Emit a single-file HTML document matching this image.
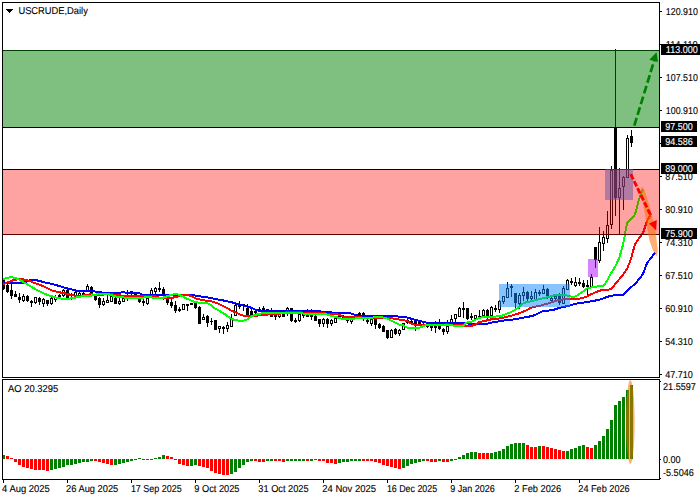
<!DOCTYPE html><html><head><meta charset="utf-8"><style>
html,body{margin:0;padding:0;background:#fff;}
body{width:700px;height:500px;overflow:hidden;position:relative;font-family:"Liberation Sans",sans-serif;}
svg{position:absolute;left:0;top:0;}
.t{font-family:"Liberation Sans",sans-serif;font-size:10px;fill:#000;text-rendering:geometricPrecision;stroke:#000;stroke-width:0.12px;}
.w{fill:#fff;stroke:#fff;}
</style></head><body>
<svg width="700" height="500" viewBox="0 0 700 500">
<defs><clipPath id="cm"><rect x="3" y="3" width="656" height="374"/></clipPath><clipPath id="ca"><rect x="3" y="380" width="656" height="99"/></clipPath></defs>
<rect x="0" y="0" width="700" height="500" fill="#fff"/>
<g clip-path="url(#cm)">
<g shape-rendering="crispEdges" fill="#000"><rect x="3" y="279" width="1" height="11"/><rect x="2" y="280" width="3" height="9"/><rect x="7" y="284" width="1" height="9"/><rect x="6" y="285" width="3" height="7"/><rect x="11" y="284" width="1" height="15"/><rect x="10" y="290" width="3" height="6"/><rect x="15" y="291" width="1" height="6"/><rect x="14" y="294" width="3" height="3"/><rect x="19" y="293" width="1" height="10"/><rect x="18" y="297" width="3" height="3"/><rect x="23" y="294" width="1" height="8"/><rect x="22" y="296" width="3" height="5"/><rect x="23" y="297" width="1" height="3" fill="#fff"/><rect x="27" y="295" width="1" height="7"/><rect x="26" y="296" width="3" height="5"/><rect x="31" y="300" width="1" height="7"/><rect x="30" y="301" width="3" height="2"/><rect x="35" y="297" width="1" height="7"/><rect x="34" y="297" width="3" height="6"/><rect x="35" y="298" width="1" height="4" fill="#fff"/><rect x="39" y="297" width="1" height="8"/><rect x="38" y="298" width="3" height="4"/><rect x="43" y="298" width="1" height="9"/><rect x="42" y="299" width="3" height="5"/><rect x="43" y="300" width="1" height="3" fill="#fff"/><rect x="47" y="300" width="1" height="6"/><rect x="46" y="300" width="3" height="4"/><rect x="51" y="297" width="1" height="8"/><rect x="50" y="298" width="3" height="6"/><rect x="51" y="299" width="1" height="4" fill="#fff"/><rect x="55" y="295" width="1" height="7"/><rect x="54" y="297" width="3" height="3"/><rect x="55" y="298" width="1" height="1" fill="#fff"/><rect x="59" y="294" width="1" height="4"/><rect x="58" y="295" width="3" height="2"/><rect x="63" y="289" width="1" height="8"/><rect x="62" y="290" width="3" height="6"/><rect x="63" y="291" width="1" height="4" fill="#fff"/><rect x="67" y="289" width="1" height="10"/><rect x="66" y="290" width="3" height="8"/><rect x="71" y="293" width="1" height="7"/><rect x="70" y="294" width="3" height="2"/><rect x="75" y="291" width="1" height="6"/><rect x="74" y="292" width="3" height="4"/><rect x="75" y="293" width="1" height="2" fill="#fff"/><rect x="79" y="292" width="1" height="5"/><rect x="78" y="293" width="3" height="3"/><rect x="79" y="294" width="1" height="1" fill="#fff"/><rect x="83" y="292" width="1" height="4"/><rect x="82" y="293" width="3" height="2"/><rect x="87" y="284" width="1" height="8"/><rect x="86" y="286" width="3" height="6"/><rect x="87" y="287" width="1" height="4" fill="#fff"/><rect x="91" y="286" width="1" height="8"/><rect x="90" y="287" width="3" height="6"/><rect x="95" y="295" width="1" height="6"/><rect x="94" y="296" width="3" height="4"/><rect x="99" y="297" width="1" height="11"/><rect x="98" y="298" width="3" height="7"/><rect x="103" y="298" width="1" height="8"/><rect x="102" y="301" width="3" height="4"/><rect x="103" y="302" width="1" height="2" fill="#fff"/><rect x="107" y="295" width="1" height="8"/><rect x="106" y="300" width="3" height="3"/><rect x="107" y="301" width="1" height="1" fill="#fff"/><rect x="111" y="295" width="1" height="7"/><rect x="110" y="296" width="3" height="6"/><rect x="111" y="297" width="1" height="4" fill="#fff"/><rect x="115" y="294" width="1" height="10"/><rect x="114" y="298" width="3" height="6"/><rect x="119" y="298" width="1" height="7"/><rect x="118" y="301" width="3" height="3"/><rect x="119" y="302" width="1" height="1" fill="#fff"/><rect x="123" y="296" width="1" height="6"/><rect x="122" y="298" width="3" height="4"/><rect x="123" y="299" width="1" height="2" fill="#fff"/><rect x="127" y="290" width="1" height="11"/><rect x="126" y="296" width="3" height="2"/><rect x="131" y="291" width="1" height="5"/><rect x="130" y="291" width="3" height="3"/><rect x="131" y="292" width="1" height="1" fill="#fff"/><rect x="135" y="292" width="1" height="5"/><rect x="134" y="292" width="3" height="3"/><rect x="139" y="299" width="1" height="4"/><rect x="138" y="299" width="3" height="3"/><rect x="143" y="299" width="1" height="7"/><rect x="142" y="301" width="3" height="2"/><rect x="147" y="297" width="1" height="8"/><rect x="146" y="298" width="3" height="6"/><rect x="147" y="299" width="1" height="4" fill="#fff"/><rect x="151" y="288" width="1" height="8"/><rect x="150" y="290" width="3" height="5"/><rect x="151" y="291" width="1" height="3" fill="#fff"/><rect x="155" y="287" width="1" height="7"/><rect x="154" y="288" width="3" height="4"/><rect x="155" y="289" width="1" height="2" fill="#fff"/><rect x="159" y="282" width="1" height="10"/><rect x="158" y="288" width="3" height="2"/><rect x="163" y="287" width="1" height="13"/><rect x="162" y="289" width="3" height="6"/><rect x="167" y="298" width="1" height="7"/><rect x="166" y="299" width="3" height="4"/><rect x="171" y="299" width="1" height="9"/><rect x="170" y="302" width="3" height="4"/><rect x="175" y="301" width="1" height="12"/><rect x="174" y="305" width="3" height="6"/><rect x="179" y="307" width="1" height="5"/><rect x="178" y="309" width="3" height="2"/><rect x="183" y="304" width="1" height="6"/><rect x="182" y="304" width="3" height="6"/><rect x="183" y="305" width="1" height="4" fill="#fff"/><rect x="187" y="304" width="1" height="7"/><rect x="186" y="304" width="3" height="2"/><rect x="191" y="303" width="1" height="2"/><rect x="190" y="303" width="3" height="2"/><rect x="195" y="303" width="1" height="6"/><rect x="194" y="303" width="3" height="5"/><rect x="199" y="306" width="1" height="18"/><rect x="198" y="307" width="3" height="17"/><rect x="203" y="314" width="1" height="6"/><rect x="202" y="317" width="3" height="3"/><rect x="203" y="318" width="1" height="1" fill="#fff"/><rect x="207" y="315" width="1" height="12"/><rect x="206" y="316" width="3" height="7"/><rect x="211" y="318" width="1" height="7"/><rect x="210" y="321" width="3" height="1"/><rect x="215" y="320" width="1" height="10"/><rect x="214" y="320" width="3" height="10"/><rect x="219" y="326" width="1" height="7"/><rect x="218" y="326" width="3" height="3"/><rect x="219" y="327" width="1" height="1" fill="#fff"/><rect x="223" y="326" width="1" height="8"/><rect x="222" y="327" width="3" height="2"/><rect x="227" y="322" width="1" height="10"/><rect x="226" y="325" width="3" height="4"/><rect x="227" y="326" width="1" height="2" fill="#fff"/><rect x="231" y="314" width="1" height="13"/><rect x="230" y="319" width="3" height="8"/><rect x="231" y="320" width="1" height="6" fill="#fff"/><rect x="235" y="304" width="1" height="12"/><rect x="234" y="305" width="3" height="11"/><rect x="235" y="306" width="1" height="9" fill="#fff"/><rect x="239" y="301" width="1" height="8"/><rect x="238" y="305" width="3" height="2"/><rect x="243" y="304" width="1" height="7"/><rect x="242" y="304" width="3" height="2"/><rect x="247" y="304" width="1" height="11"/><rect x="246" y="308" width="3" height="7"/><rect x="251" y="309" width="1" height="6"/><rect x="250" y="311" width="3" height="4"/><rect x="255" y="310" width="1" height="4"/><rect x="254" y="311" width="3" height="2"/><rect x="259" y="307" width="1" height="5"/><rect x="258" y="309" width="3" height="2"/><rect x="263" y="306" width="1" height="6"/><rect x="262" y="308" width="3" height="3"/><rect x="267" y="309" width="1" height="6"/><rect x="266" y="309" width="3" height="2"/><rect x="271" y="308" width="1" height="9"/><rect x="270" y="314" width="3" height="3"/><rect x="275" y="314" width="1" height="6"/><rect x="274" y="315" width="3" height="2"/><rect x="279" y="313" width="1" height="5"/><rect x="278" y="314" width="3" height="3"/><rect x="279" y="315" width="1" height="1" fill="#fff"/><rect x="283" y="313" width="1" height="4"/><rect x="282" y="313" width="3" height="4"/><rect x="287" y="307" width="1" height="9"/><rect x="286" y="308" width="3" height="4"/><rect x="287" y="309" width="1" height="2" fill="#fff"/><rect x="291" y="308" width="1" height="14"/><rect x="290" y="308" width="3" height="13"/><rect x="295" y="318" width="1" height="5"/><rect x="294" y="320" width="3" height="2"/><rect x="299" y="314" width="1" height="8"/><rect x="298" y="314" width="3" height="7"/><rect x="299" y="315" width="1" height="5" fill="#fff"/><rect x="303" y="313" width="1" height="5"/><rect x="302" y="314" width="3" height="2"/><rect x="307" y="309" width="1" height="8"/><rect x="306" y="315" width="3" height="2"/><rect x="311" y="309" width="1" height="11"/><rect x="310" y="315" width="3" height="2"/><rect x="315" y="315" width="1" height="6"/><rect x="314" y="316" width="3" height="5"/><rect x="319" y="319" width="1" height="8"/><rect x="318" y="319" width="3" height="5"/><rect x="323" y="318" width="1" height="9"/><rect x="322" y="319" width="3" height="5"/><rect x="323" y="320" width="1" height="3" fill="#fff"/><rect x="327" y="318" width="1" height="10"/><rect x="326" y="319" width="3" height="5"/><rect x="331" y="319" width="1" height="7"/><rect x="330" y="320" width="3" height="4"/><rect x="331" y="321" width="1" height="2" fill="#fff"/><rect x="335" y="318" width="1" height="5"/><rect x="334" y="318" width="3" height="5"/><rect x="335" y="319" width="1" height="3" fill="#fff"/><rect x="339" y="315" width="1" height="4"/><rect x="338" y="316" width="3" height="2"/><rect x="343" y="315" width="1" height="4"/><rect x="342" y="316" width="3" height="2"/><rect x="347" y="318" width="1" height="5"/><rect x="346" y="319" width="3" height="2"/><rect x="351" y="318" width="1" height="6"/><rect x="350" y="319" width="3" height="3"/><rect x="351" y="320" width="1" height="1" fill="#fff"/><rect x="355" y="314" width="1" height="4"/><rect x="354" y="315" width="3" height="2"/><rect x="359" y="312" width="1" height="5"/><rect x="358" y="313" width="3" height="3"/><rect x="363" y="312" width="1" height="9"/><rect x="362" y="313" width="3" height="6"/><rect x="367" y="319" width="1" height="5"/><rect x="366" y="320" width="3" height="2"/><rect x="371" y="319" width="1" height="7"/><rect x="370" y="319" width="3" height="5"/><rect x="371" y="320" width="1" height="3" fill="#fff"/><rect x="375" y="318" width="1" height="11"/><rect x="374" y="319" width="3" height="6"/><rect x="379" y="323" width="1" height="6"/><rect x="378" y="324" width="3" height="4"/><rect x="383" y="325" width="1" height="7"/><rect x="382" y="326" width="3" height="6"/><rect x="387" y="330" width="1" height="9"/><rect x="386" y="330" width="3" height="8"/><rect x="391" y="329" width="1" height="9"/><rect x="390" y="330" width="3" height="8"/><rect x="391" y="331" width="1" height="6" fill="#fff"/><rect x="395" y="328" width="1" height="7"/><rect x="394" y="329" width="3" height="5"/><rect x="399" y="329" width="1" height="7"/><rect x="398" y="330" width="3" height="4"/><rect x="399" y="331" width="1" height="2" fill="#fff"/><rect x="403" y="323" width="1" height="7"/><rect x="402" y="323" width="3" height="7"/><rect x="403" y="324" width="1" height="5" fill="#fff"/><rect x="407" y="319" width="1" height="5"/><rect x="406" y="320" width="3" height="3"/><rect x="411" y="320" width="1" height="4"/><rect x="410" y="321" width="3" height="2"/><rect x="415" y="320" width="1" height="11"/><rect x="414" y="321" width="3" height="4"/><rect x="419" y="322" width="1" height="3"/><rect x="418" y="322" width="3" height="2"/><rect x="423" y="323" width="1" height="4"/><rect x="422" y="324" width="3" height="2"/><rect x="427" y="325" width="1" height="3"/><rect x="426" y="326" width="3" height="1"/><rect x="431" y="325" width="1" height="6"/><rect x="430" y="326" width="3" height="2"/><rect x="435" y="321" width="1" height="12"/><rect x="434" y="326" width="3" height="2"/><rect x="439" y="319" width="1" height="11"/><rect x="438" y="326" width="3" height="3"/><rect x="443" y="328" width="1" height="7"/><rect x="442" y="329" width="3" height="3"/><rect x="447" y="320" width="1" height="14"/><rect x="446" y="326" width="3" height="6"/><rect x="447" y="327" width="1" height="4" fill="#fff"/><rect x="451" y="315" width="1" height="8"/><rect x="450" y="319" width="3" height="4"/><rect x="451" y="320" width="1" height="2" fill="#fff"/><rect x="455" y="314" width="1" height="8"/><rect x="454" y="314" width="3" height="5"/><rect x="455" y="315" width="1" height="3" fill="#fff"/><rect x="459" y="307" width="1" height="10"/><rect x="458" y="308" width="3" height="9"/><rect x="459" y="309" width="1" height="7" fill="#fff"/><rect x="463" y="302" width="1" height="16"/><rect x="462" y="308" width="3" height="2"/><rect x="467" y="308" width="1" height="12"/><rect x="466" y="308" width="3" height="11"/><rect x="471" y="313" width="1" height="7"/><rect x="470" y="316" width="3" height="2"/><rect x="475" y="315" width="1" height="4"/><rect x="474" y="315" width="3" height="4"/><rect x="475" y="316" width="1" height="2" fill="#fff"/><rect x="479" y="310" width="1" height="7"/><rect x="478" y="316" width="3" height="1"/><rect x="483" y="309" width="1" height="8"/><rect x="482" y="310" width="3" height="6"/><rect x="483" y="311" width="1" height="4" fill="#fff"/><rect x="487" y="309" width="1" height="10"/><rect x="486" y="310" width="3" height="6"/><rect x="491" y="306" width="1" height="10"/><rect x="490" y="307" width="3" height="9"/><rect x="491" y="308" width="1" height="7" fill="#fff"/><rect x="495" y="305" width="1" height="7"/><rect x="494" y="308" width="3" height="2"/><rect x="499" y="300" width="1" height="13"/><rect x="498" y="301" width="3" height="9"/><rect x="499" y="302" width="1" height="7" fill="#fff"/><rect x="503" y="296" width="1" height="8"/><rect x="502" y="296" width="3" height="6"/><rect x="503" y="297" width="1" height="4" fill="#fff"/><rect x="507" y="282" width="1" height="16"/><rect x="506" y="288" width="3" height="10"/><rect x="507" y="289" width="1" height="8" fill="#fff"/><rect x="511" y="284" width="1" height="13"/><rect x="510" y="286" width="3" height="2"/><rect x="515" y="293" width="1" height="15"/><rect x="514" y="293" width="3" height="10"/><rect x="519" y="293" width="1" height="16"/><rect x="518" y="295" width="3" height="9"/><rect x="519" y="296" width="1" height="7" fill="#fff"/><rect x="523" y="287" width="1" height="14"/><rect x="522" y="292" width="3" height="4"/><rect x="523" y="293" width="1" height="2" fill="#fff"/><rect x="527" y="291" width="1" height="10"/><rect x="526" y="292" width="3" height="7"/><rect x="531" y="291" width="1" height="10"/><rect x="530" y="296" width="3" height="3"/><rect x="531" y="297" width="1" height="1" fill="#fff"/><rect x="535" y="289" width="1" height="11"/><rect x="534" y="292" width="3" height="8"/><rect x="535" y="293" width="1" height="6" fill="#fff"/><rect x="539" y="290" width="1" height="6"/><rect x="538" y="292" width="3" height="2"/><rect x="543" y="285" width="1" height="9"/><rect x="542" y="289" width="3" height="5"/><rect x="543" y="290" width="1" height="3" fill="#fff"/><rect x="547" y="288" width="1" height="11"/><rect x="546" y="289" width="3" height="9"/><rect x="551" y="297" width="1" height="5"/><rect x="550" y="298" width="3" height="3"/><rect x="551" y="299" width="1" height="1" fill="#fff"/><rect x="555" y="294" width="1" height="7"/><rect x="554" y="296" width="3" height="3"/><rect x="555" y="297" width="1" height="1" fill="#fff"/><rect x="559" y="293" width="1" height="12"/><rect x="558" y="296" width="3" height="7"/><rect x="563" y="286" width="1" height="18"/><rect x="562" y="288" width="3" height="16"/><rect x="563" y="289" width="1" height="14" fill="#fff"/><rect x="567" y="279" width="1" height="11"/><rect x="566" y="280" width="3" height="10"/><rect x="567" y="281" width="1" height="8" fill="#fff"/><rect x="571" y="278" width="1" height="7"/><rect x="570" y="281" width="3" height="2"/><rect x="575" y="277" width="1" height="10"/><rect x="574" y="282" width="3" height="4"/><rect x="575" y="283" width="1" height="2" fill="#fff"/><rect x="579" y="278" width="1" height="8"/><rect x="578" y="282" width="3" height="2"/><rect x="583" y="280" width="1" height="8"/><rect x="582" y="283" width="3" height="4"/><rect x="587" y="280" width="1" height="15"/><rect x="586" y="285" width="3" height="2"/><rect x="591" y="274" width="1" height="14"/><rect x="590" y="277" width="3" height="10"/><rect x="591" y="278" width="1" height="8" fill="#fff"/><rect x="595" y="247" width="1" height="21"/><rect x="594" y="247" width="3" height="13"/><rect x="599" y="227" width="1" height="36"/><rect x="598" y="242" width="3" height="19"/><rect x="599" y="243" width="1" height="17" fill="#fff"/><rect x="603" y="231" width="1" height="20"/><rect x="602" y="237" width="3" height="7"/><rect x="603" y="238" width="1" height="5" fill="#fff"/><rect x="607" y="211" width="1" height="32"/><rect x="606" y="225" width="3" height="14"/><rect x="607" y="226" width="1" height="12" fill="#fff"/><rect x="611" y="166" width="1" height="63"/><rect x="610" y="170" width="3" height="55"/><rect x="611" y="171" width="1" height="53" fill="#fff"/><rect x="615" y="49" width="1" height="167"/><rect x="614" y="127" width="3" height="71"/><rect x="619" y="168" width="1" height="67"/><rect x="618" y="188" width="3" height="10"/><rect x="619" y="189" width="1" height="8" fill="#fff"/><rect x="623" y="176" width="1" height="34"/><rect x="622" y="177" width="3" height="10"/><rect x="623" y="178" width="1" height="8" fill="#fff"/><rect x="627" y="135" width="1" height="43"/><rect x="626" y="138" width="3" height="40"/><rect x="627" y="139" width="1" height="38" fill="#fff"/><rect x="631" y="130" width="1" height="17"/><rect x="630" y="136" width="3" height="7"/></g>
<g fill="none" stroke-width="2" shape-rendering="crispEdges" stroke-linejoin="round">
<polyline points="-1,282.2 3,282.4 7,282.6 11,282.8 15,282.9 19,283.0 23,282.8 27,281.5 31,280.0 35,280.0 39,280.8 43,282.0 47,282.9 51,283.7 55,284.8 59,286.0 63,287.2 67,288.3 71,289.3 75,290.3 79,291.0 83,291.1 87,291.2 91,291.4 95,291.5 99,292.0 103,292.8 107,293.0 111,293.0 115,293.0 119,293.0 123,292.0 127,293.0 131,293.0 135,293.0 139,293.0 143,295.0 147,295.0 151,295.0 155,295.2 159,295.2 163,295.1 167,295.0 171,295.0 175,295.0 179,295.0 183,295.1 187,295.2 191,295.3 195,295.5 199,296.1 203,296.8 207,297.4 211,298.0 215,298.9 219,299.7 223,300.4 227,301.2 231,302.1 235,303.2 239,304.3 243,305.3 247,306.5 251,307.7 255,309.5 259,310.9 263,311.1 267,310.9 271,310.5 275,310.5 279,310.8 283,310.9 287,311.0 291,311.0 295,311.0 299,311.0 303,311.0 307,311.0 311,311.0 315,311.0 319,311.0 323,312.0 327,312.0 331,312.3 335,313.0 339,313.0 343,313.0 347,313.0 351,313.4 355,314.9 359,315.8 363,315.8 367,315.9 371,315.9 375,315.9 379,315.9 383,315.9 387,316.0 391,316.0 395,316.1 399,316.7 403,317.0 407,317.5 411,318.7 415,319.7 419,320.7 423,321.7 427,322.7 431,323.0 435,323.0 439,323.0 443,323.0 447,323.0 451,323.0 455,323.0 459,323.0 463,323.0 467,323.2 471,324.0 475,324.1 479,324.1 483,324.2 487,323.9 491,322.7 495,322.0 499,321.3 503,320.6 507,320.1 511,319.7 515,319.2 519,318.5 523,317.7 527,317.0 531,316.2 535,315.1 539,312.9 543,311.2 547,310.6 551,310.4 555,309.4 559,308.0 563,307.0 567,306.2 571,305.3 575,303.9 579,303.2 583,302.7 587,302.1 591,301.4 595,300.6 599,299.8 603,298.4 607,296.9 611,295.9 615,295.0 619,295.0 623,295.0 627,291.0 631,287.2 635,284.0 639,279.2 643,274.0 647,263.0 651,258.1 655,252.6" stroke="#0000ff"/>
<polyline points="-1,286.2 3,284.5 7,282.6 11,281.0 15,279.8 19,279.0 23,279.4 27,280.2 31,281.6 35,283.2 39,284.6 43,286.0 47,288.0 51,290.1 55,291.3 59,292.2 63,293.0 67,293.8 71,295.0 75,295.6 79,295.6 83,295.6 87,294.7 91,294.4 95,294.7 99,295.1 103,294.8 107,293.9 111,293.9 115,294.8 119,295.1 123,295.8 127,296.0 131,296.0 135,296.0 139,296.0 143,296.0 147,296.0 151,296.1 155,296.3 159,297.7 163,298.1 167,298.1 171,298.0 175,297.2 179,296.3 183,294.8 187,294.8 191,296.0 195,298.1 199,299.3 203,300.3 207,300.8 211,301.2 215,302.4 219,304.0 223,306.0 227,308.0 231,310.4 235,312.1 239,314.0 243,315.6 247,316.1 251,315.9 255,315.6 259,315.5 263,315.1 267,314.6 271,314.1 275,314.0 279,314.0 283,313.0 287,312.0 291,312.0 295,312.0 299,312.0 303,312.8 307,313.0 311,313.0 315,313.0 319,313.0 323,313.0 327,313.8 331,314.0 335,313.9 339,314.7 343,316.5 347,316.9 351,317.0 355,317.0 359,317.2 363,317.6 367,317.9 371,318.1 375,318.2 379,317.8 383,317.5 387,317.6 391,318.1 395,318.9 399,319.5 403,320.0 407,321.0 411,323.5 415,325.0 419,325.0 423,324.6 427,324.6 431,324.7 435,324.8 439,325.0 443,325.0 447,324.2 451,324.9 455,325.0 459,325.0 463,325.2 467,326.0 471,326.0 475,324.8 479,322.2 483,321.3 487,320.4 491,319.4 495,319.1 499,318.5 503,317.7 507,316.8 511,315.8 515,314.6 519,313.4 523,311.8 527,310.0 531,307.8 535,306.6 539,306.1 543,304.8 547,303.8 551,302.4 555,301.1 559,299.8 563,299.4 567,299.1 571,299.0 575,299.0 579,298.6 583,298.0 587,296.4 591,294.3 595,292.6 599,290.8 603,290.0 607,289.6 611,289.4 615,284.5 619,279.5 623,274.7 627,269.0 631,259.0 635,244.0 639,238.5 643,233.0 647,221.0 651,214.0" stroke="#ff0000"/>
<polyline points="-1,280.1 3,279.0 7,277.9 11,277.2 15,277.8 19,279.6 23,281.8 27,284.2 31,286.6 35,288.9 39,291.1 43,292.9 47,294.8 51,296.1 55,297.2 59,298.1 63,298.8 67,298.8 71,298.4 75,297.8 79,296.7 83,296.2 87,296.1 91,295.6 95,294.9 99,293.9 103,293.6 107,293.9 111,294.9 115,296.4 119,296.9 123,297.3 127,298.0 131,298.0 135,298.0 139,298.0 143,297.7 147,297.0 151,297.3 155,298.0 159,298.0 163,297.7 167,296.4 171,294.9 175,294.1 179,294.7 183,296.6 187,298.7 191,300.4 195,302.1 199,302.7 203,302.9 207,303.0 211,305.0 215,308.5 219,310.5 223,313.0 227,315.7 231,318.5 235,320.1 239,320.7 243,320.9 247,319.5 251,316.8 255,314.9 259,313.8 263,313.1 267,313.0 271,313.0 275,313.0 279,313.0 283,313.0 287,312.9 291,313.0 295,313.0 299,313.0 303,313.5 307,314.0 311,314.0 315,314.0 319,314.0 323,314.0 327,314.5 331,316.0 335,316.6 339,318.0 343,319.0 347,319.1 351,319.0 355,318.5 359,318.3 363,318.2 367,318.1 371,318.0 375,317.1 379,317.1 383,317.5 387,318.5 391,320.4 395,322.5 399,324.5 403,325.3 407,327.5 411,328.0 415,328.0 419,328.0 423,326.2 427,324.8 431,324.7 435,324.7 439,324.8 443,324.9 447,324.9 451,325.0 455,326.0 459,326.0 463,326.0 467,322.5 471,322.1 475,320.0 479,318.0 483,317.1 487,316.6 491,316.6 495,316.6 499,316.2 503,315.4 507,313.6 511,312.0 515,310.1 519,307.1 523,303.4 527,302.0 531,301.4 535,300.3 539,299.2 543,298.2 547,297.4 551,296.3 555,295.1 559,295.0 563,295.4 567,295.4 571,296.6 575,296.6 579,294.3 583,291.4 587,288.6 591,287.6 595,286.7 599,286.3 603,286.4 607,281.0 611,273.3 615,267.0 619,258.5 623,245.0 627,223.0 631,219.0 635,214.5 639,199.0 643,189.5" stroke="#00ff00"/>
</g>
<g shape-rendering="crispEdges" fill="#000"><rect x="3" y="50" width="656" height="1"/><rect x="3" y="127" width="656" height="1"/><rect x="3" y="169" width="656" height="1"/><rect x="3" y="234" width="656" height="1"/></g>
<g shape-rendering="crispEdges">
<rect x="499" y="284" width="71" height="23" fill="rgb(16,136,255)" fill-opacity="0.5"/>
<rect x="588" y="259" width="10" height="18" fill="rgb(180,10,255)" fill-opacity="0.5"/>
<rect x="605" y="169" width="28" height="31" fill="rgb(16,136,255)" fill-opacity="0.5"/>
<rect x="3" y="50" width="656" height="77" fill="rgb(0,128,0)" fill-opacity="0.5"/>
<rect x="3" y="170" width="656" height="65" fill="rgb(255,0,0)" fill-opacity="0.365"/>
</g>
<g>
<line x1="634.3" y1="125.6" x2="654.2" y2="60.5" stroke="#008000" stroke-width="2.7" stroke-dasharray="8,3.2"/>
<polygon points="656.6,52.2 649.3,59.7 657.9,62.1" fill="#008000"/>
<polygon points="641.7,186.8 640.9,190 642.4,200 644.2,210 647.3,228 649.3,240 652.8,250 656.9,256.8 657.8,250 656.6,240 655.2,228 650.6,210 647.6,200 644.4,190 642.6,187" fill="rgb(255,110,0)" fill-opacity="0.55"/>
<line x1="630.7" y1="174.2" x2="651.3" y2="216.5" stroke="#ff0000" stroke-width="2.9" stroke-dasharray="5.8,2"/>
<polygon points="649,223.6 656.8,220 656.2,230.4" fill="#ff0000"/>
</g>
</g>
<g clip-path="url(#ca)" shape-rendering="crispEdges"><rect x="2" y="455" width="3" height="4" fill="#008000"/><rect x="6" y="456" width="3" height="3" fill="#ff0000"/><rect x="10" y="458" width="3" height="1" fill="#ff0000"/><rect x="14" y="459" width="3" height="3" fill="#ff0000"/><rect x="18" y="459" width="3" height="6" fill="#ff0000"/><rect x="22" y="459" width="3" height="8" fill="#ff0000"/><rect x="26" y="459" width="3" height="9" fill="#ff0000"/><rect x="30" y="459" width="3" height="10" fill="#ff0000"/><rect x="34" y="459" width="3" height="11" fill="#ff0000"/><rect x="38" y="459" width="3" height="11" fill="#ff0000"/><rect x="42" y="459" width="3" height="11" fill="#ff0000"/><rect x="46" y="459" width="3" height="12" fill="#ff0000"/><rect x="50" y="459" width="3" height="11" fill="#008000"/><rect x="54" y="459" width="3" height="10" fill="#008000"/><rect x="58" y="459" width="3" height="9" fill="#008000"/><rect x="62" y="459" width="3" height="8" fill="#008000"/><rect x="66" y="459" width="3" height="6" fill="#008000"/><rect x="70" y="459" width="3" height="6" fill="#008000"/><rect x="74" y="459" width="3" height="5" fill="#008000"/><rect x="78" y="459" width="3" height="4" fill="#008000"/><rect x="82" y="459" width="3" height="3" fill="#008000"/><rect x="86" y="459" width="3" height="3" fill="#008000"/><rect x="90" y="459" width="3" height="2" fill="#008000"/><rect x="94" y="459" width="3" height="2" fill="#ff0000"/><rect x="98" y="459" width="3" height="3" fill="#ff0000"/><rect x="102" y="459" width="3" height="4" fill="#ff0000"/><rect x="106" y="459" width="3" height="5" fill="#ff0000"/><rect x="110" y="459" width="3" height="6" fill="#ff0000"/><rect x="114" y="459" width="3" height="6" fill="#008000"/><rect x="118" y="459" width="3" height="5" fill="#008000"/><rect x="122" y="459" width="3" height="4" fill="#008000"/><rect x="126" y="459" width="3" height="3" fill="#008000"/><rect x="130" y="459" width="3" height="2" fill="#008000"/><rect x="134" y="459" width="3" height="1" fill="#008000"/><rect x="138" y="458" width="3" height="1" fill="#008000"/><rect x="142" y="459" width="3" height="1" fill="#ff0000"/><rect x="146" y="459" width="3" height="1" fill="#ff0000"/><rect x="150" y="459" width="3" height="1" fill="#008000"/><rect x="154" y="458" width="3" height="1" fill="#008000"/><rect x="158" y="457" width="3" height="2" fill="#008000"/><rect x="162" y="455" width="3" height="4" fill="#008000"/><rect x="166" y="456" width="3" height="3" fill="#ff0000"/><rect x="170" y="457" width="3" height="2" fill="#ff0000"/><rect x="174" y="459" width="3" height="1" fill="#ff0000"/><rect x="178" y="459" width="3" height="5" fill="#ff0000"/><rect x="182" y="459" width="3" height="6" fill="#ff0000"/><rect x="186" y="459" width="3" height="7" fill="#ff0000"/><rect x="190" y="459" width="3" height="7" fill="#008000"/><rect x="194" y="459" width="3" height="6" fill="#008000"/><rect x="198" y="459" width="3" height="7" fill="#ff0000"/><rect x="202" y="459" width="3" height="8" fill="#ff0000"/><rect x="206" y="459" width="3" height="9" fill="#ff0000"/><rect x="210" y="459" width="3" height="12" fill="#ff0000"/><rect x="214" y="459" width="3" height="14" fill="#ff0000"/><rect x="218" y="459" width="3" height="15" fill="#ff0000"/><rect x="222" y="459" width="3" height="16" fill="#ff0000"/><rect x="226" y="459" width="3" height="16" fill="#ff0000"/><rect x="230" y="459" width="3" height="15" fill="#008000"/><rect x="234" y="459" width="3" height="13" fill="#008000"/><rect x="238" y="459" width="3" height="9" fill="#008000"/><rect x="242" y="459" width="3" height="6" fill="#008000"/><rect x="246" y="459" width="3" height="3" fill="#008000"/><rect x="250" y="459" width="3" height="2" fill="#008000"/><rect x="254" y="459" width="3" height="2" fill="#ff0000"/><rect x="258" y="459" width="3" height="3" fill="#ff0000"/><rect x="262" y="459" width="3" height="3" fill="#ff0000"/><rect x="266" y="459" width="3" height="2" fill="#008000"/><rect x="270" y="459" width="3" height="2" fill="#008000"/><rect x="274" y="459" width="3" height="2" fill="#ff0000"/><rect x="278" y="459" width="3" height="2" fill="#ff0000"/><rect x="282" y="459" width="3" height="3" fill="#ff0000"/><rect x="286" y="459" width="3" height="2" fill="#008000"/><rect x="290" y="459" width="3" height="2" fill="#008000"/><rect x="294" y="459" width="3" height="2" fill="#008000"/><rect x="298" y="459" width="3" height="2" fill="#008000"/><rect x="302" y="459" width="3" height="2" fill="#008000"/><rect x="306" y="459" width="3" height="2" fill="#ff0000"/><rect x="310" y="459" width="3" height="2" fill="#008000"/><rect x="314" y="459" width="3" height="1" fill="#008000"/><rect x="318" y="459" width="3" height="2" fill="#ff0000"/><rect x="322" y="459" width="3" height="2" fill="#ff0000"/><rect x="326" y="459" width="3" height="4" fill="#ff0000"/><rect x="330" y="459" width="3" height="4" fill="#ff0000"/><rect x="334" y="459" width="3" height="5" fill="#ff0000"/><rect x="338" y="459" width="3" height="4" fill="#008000"/><rect x="342" y="459" width="3" height="3" fill="#008000"/><rect x="346" y="459" width="3" height="3" fill="#008000"/><rect x="350" y="459" width="3" height="2" fill="#008000"/><rect x="354" y="459" width="3" height="2" fill="#008000"/><rect x="358" y="459" width="3" height="2" fill="#008000"/><rect x="362" y="459" width="3" height="2" fill="#ff0000"/><rect x="366" y="459" width="3" height="2" fill="#ff0000"/><rect x="370" y="459" width="3" height="2" fill="#ff0000"/><rect x="374" y="459" width="3" height="3" fill="#ff0000"/><rect x="378" y="459" width="3" height="4" fill="#ff0000"/><rect x="382" y="459" width="3" height="6" fill="#ff0000"/><rect x="386" y="459" width="3" height="7" fill="#ff0000"/><rect x="390" y="459" width="3" height="8" fill="#ff0000"/><rect x="394" y="459" width="3" height="9" fill="#ff0000"/><rect x="398" y="459" width="3" height="10" fill="#ff0000"/><rect x="402" y="459" width="3" height="9" fill="#008000"/><rect x="406" y="459" width="3" height="7" fill="#008000"/><rect x="410" y="459" width="3" height="5" fill="#008000"/><rect x="414" y="459" width="3" height="4" fill="#008000"/><rect x="418" y="459" width="3" height="3" fill="#008000"/><rect x="422" y="459" width="3" height="2" fill="#008000"/><rect x="426" y="459" width="3" height="2" fill="#ff0000"/><rect x="430" y="459" width="3" height="3" fill="#ff0000"/><rect x="434" y="459" width="3" height="3" fill="#ff0000"/><rect x="438" y="459" width="3" height="2" fill="#008000"/><rect x="442" y="459" width="3" height="3" fill="#ff0000"/><rect x="446" y="459" width="3" height="3" fill="#ff0000"/><rect x="450" y="459" width="3" height="2" fill="#008000"/><rect x="454" y="459" width="3" height="1" fill="#008000"/><rect x="458" y="457" width="3" height="2" fill="#008000"/><rect x="462" y="455" width="3" height="4" fill="#008000"/><rect x="466" y="453" width="3" height="6" fill="#008000"/><rect x="470" y="452" width="3" height="7" fill="#008000"/><rect x="474" y="452" width="3" height="7" fill="#008000"/><rect x="478" y="453" width="3" height="6" fill="#ff0000"/><rect x="482" y="453" width="3" height="6" fill="#ff0000"/><rect x="486" y="453" width="3" height="6" fill="#ff0000"/><rect x="490" y="453" width="3" height="6" fill="#008000"/><rect x="494" y="452" width="3" height="7" fill="#008000"/><rect x="498" y="451" width="3" height="8" fill="#008000"/><rect x="502" y="449" width="3" height="10" fill="#008000"/><rect x="506" y="446" width="3" height="13" fill="#008000"/><rect x="510" y="444" width="3" height="15" fill="#008000"/><rect x="514" y="443" width="3" height="16" fill="#008000"/><rect x="518" y="443" width="3" height="16" fill="#008000"/><rect x="522" y="443" width="3" height="16" fill="#008000"/><rect x="526" y="445" width="3" height="14" fill="#ff0000"/><rect x="530" y="447" width="3" height="12" fill="#ff0000"/><rect x="534" y="447" width="3" height="12" fill="#ff0000"/><rect x="538" y="446" width="3" height="13" fill="#008000"/><rect x="542" y="446" width="3" height="13" fill="#ff0000"/><rect x="546" y="447" width="3" height="12" fill="#ff0000"/><rect x="550" y="448" width="3" height="11" fill="#ff0000"/><rect x="554" y="449" width="3" height="10" fill="#ff0000"/><rect x="558" y="450" width="3" height="9" fill="#ff0000"/><rect x="562" y="451" width="3" height="8" fill="#ff0000"/><rect x="566" y="451" width="3" height="8" fill="#008000"/><rect x="570" y="449" width="3" height="10" fill="#008000"/><rect x="574" y="448" width="3" height="11" fill="#008000"/><rect x="578" y="446" width="3" height="13" fill="#008000"/><rect x="582" y="445" width="3" height="14" fill="#008000"/><rect x="586" y="447" width="3" height="12" fill="#ff0000"/><rect x="590" y="448" width="3" height="11" fill="#ff0000"/><rect x="594" y="445" width="3" height="14" fill="#008000"/><rect x="598" y="441" width="3" height="18" fill="#008000"/><rect x="602" y="436" width="3" height="23" fill="#008000"/><rect x="606" y="429" width="3" height="30" fill="#008000"/><rect x="610" y="420" width="3" height="39" fill="#008000"/><rect x="614" y="405" width="3" height="54" fill="#008000"/><rect x="618" y="401" width="3" height="58" fill="#008000"/><rect x="622" y="397" width="3" height="62" fill="#008000"/><rect x="626" y="390" width="3" height="69" fill="#008000"/><rect x="630" y="385" width="3" height="74" fill="#008000"/></g>
<ellipse cx="630.3" cy="422" rx="4.3" ry="42" fill="rgb(255,110,0)" fill-opacity="0.55"/>
<g shape-rendering="crispEdges" fill="#000">
<rect x="2" y="2" width="658" height="1"/><rect x="2" y="377" width="658" height="1"/><rect x="2" y="2" width="1" height="376"/><rect x="659" y="2" width="1" height="376"/>
<rect x="2" y="379" width="658" height="1"/><rect x="2" y="479" width="658" height="1"/><rect x="2" y="379" width="1" height="101"/><rect x="659" y="379" width="1" height="101"/>
<rect x="660" y="11" width="2" height="1"/>
<rect x="660" y="44" width="2" height="1"/>
<rect x="660" y="77" width="2" height="1"/>
<rect x="660" y="110" width="2" height="1"/>
<rect x="660" y="143" width="2" height="1"/>
<rect x="660" y="176" width="2" height="1"/>
<rect x="660" y="209" width="2" height="1"/>
<rect x="660" y="242" width="2" height="1"/>
<rect x="660" y="275" width="2" height="1"/>
<rect x="660" y="308" width="2" height="1"/>
<rect x="660" y="341" width="2" height="1"/>
<rect x="660" y="374" width="2" height="1"/>
<rect x="660" y="381" width="1" height="1"/><rect x="660" y="459" width="1" height="1"/><rect x="660" y="478" width="1" height="1"/>
<rect x="3" y="480" width="1" height="3"/>
<rect x="67" y="480" width="1" height="3"/>
<rect x="131" y="480" width="1" height="3"/>
<rect x="195" y="480" width="1" height="3"/>
<rect x="259" y="480" width="1" height="3"/>
<rect x="323" y="480" width="1" height="3"/>
<rect x="387" y="480" width="1" height="3"/>
<rect x="451" y="480" width="1" height="3"/>
<rect x="515" y="480" width="1" height="3"/>
<rect x="579" y="480" width="1" height="3"/>
<rect x="6" y="9" width="7" height="1"/><rect x="7" y="10" width="5" height="1"/><rect x="8" y="11" width="3" height="1"/><rect x="9" y="12" width="1" height="1"/>
</g>
<text class="t" x="18.40" y="14" textLength="69.46" lengthAdjust="spacingAndGlyphs">USCRUDE,Daily</text>
<text class="t" x="8.00" y="392" textLength="50.17" lengthAdjust="spacingAndGlyphs">AO 20.3295</text>
<text class="t" x="665.80" y="15" textLength="32.04" lengthAdjust="spacingAndGlyphs">120.910</text>
<text class="t" x="665.80" y="48" textLength="31.96" lengthAdjust="spacingAndGlyphs">114.110</text>
<text class="t" x="665.80" y="81" textLength="32.04" lengthAdjust="spacingAndGlyphs">107.510</text>
<text class="t" x="665.80" y="114" textLength="32.04" lengthAdjust="spacingAndGlyphs">100.910</text>
<text class="t" x="665.20" y="180" textLength="27.68" lengthAdjust="spacingAndGlyphs">87.510</text>
<text class="t" x="665.20" y="213" textLength="27.68" lengthAdjust="spacingAndGlyphs">80.910</text>
<text class="t" x="665.20" y="246" textLength="27.68" lengthAdjust="spacingAndGlyphs">74.310</text>
<text class="t" x="665.20" y="279" textLength="27.68" lengthAdjust="spacingAndGlyphs">67.510</text>
<text class="t" x="665.20" y="312" textLength="27.68" lengthAdjust="spacingAndGlyphs">60.910</text>
<text class="t" x="665.20" y="345" textLength="27.68" lengthAdjust="spacingAndGlyphs">54.310</text>
<text class="t" x="665.20" y="378" textLength="27.68" lengthAdjust="spacingAndGlyphs">47.710</text>
<text class="t" x="663.00" y="390" textLength="32.94" lengthAdjust="spacingAndGlyphs">21.5597</text>
<text class="t" x="663.00" y="463" textLength="17.56" lengthAdjust="spacingAndGlyphs">0.00</text>
<text class="t" x="663.00" y="476" textLength="30.81" lengthAdjust="spacingAndGlyphs">-5.5046</text>
<text class="t" x="2.10" y="492" textLength="47.60" lengthAdjust="spacingAndGlyphs">4 Aug 2025</text>
<text class="t" x="66.10" y="492" textLength="52.17" lengthAdjust="spacingAndGlyphs">26 Aug 2025</text>
<text class="t" x="130.90" y="492" textLength="50.81" lengthAdjust="spacingAndGlyphs">17 Sep 2025</text>
<text class="t" x="194.30" y="492" textLength="45.12" lengthAdjust="spacingAndGlyphs">9 Oct 2025</text>
<text class="t" x="258.30" y="492" textLength="50.28" lengthAdjust="spacingAndGlyphs">31 Oct 2025</text>
<text class="t" x="322.30" y="492" textLength="53.70" lengthAdjust="spacingAndGlyphs">24 Nov 2025</text>
<text class="t" x="386.90" y="492" textLength="50.20" lengthAdjust="spacingAndGlyphs">16 Dec 2025</text>
<text class="t" x="450.30" y="492" textLength="44.58" lengthAdjust="spacingAndGlyphs">9 Jan 2026</text>
<text class="t" x="514.30" y="492" textLength="46.79" lengthAdjust="spacingAndGlyphs">2 Feb 2026</text>
<text class="t" x="578.30" y="492" textLength="51.36" lengthAdjust="spacingAndGlyphs">24 Feb 2026</text>
<g shape-rendering="crispEdges"><rect x="661" y="44" width="40" height="11" fill="#000"/></g>
<text class="t w" x="665.80" y="53" textLength="32.00" lengthAdjust="spacingAndGlyphs">113.000</text>
<g shape-rendering="crispEdges"><rect x="661" y="121" width="36" height="11" fill="#000"/></g>
<text class="t w" x="665.20" y="130" textLength="27.68" lengthAdjust="spacingAndGlyphs">97.500</text>
<g shape-rendering="crispEdges"><rect x="661" y="136" width="36" height="11" fill="#000"/></g>
<text class="t w" x="665.20" y="145" textLength="27.68" lengthAdjust="spacingAndGlyphs">94.586</text>
<g shape-rendering="crispEdges"><rect x="661" y="163" width="36" height="11" fill="#000"/></g>
<text class="t w" x="665.20" y="172" textLength="27.68" lengthAdjust="spacingAndGlyphs">89.000</text>
<g shape-rendering="crispEdges"><rect x="661" y="228" width="36" height="11" fill="#000"/></g>
<text class="t w" x="665.20" y="237" textLength="27.68" lengthAdjust="spacingAndGlyphs">75.900</text>
</svg></body></html>
